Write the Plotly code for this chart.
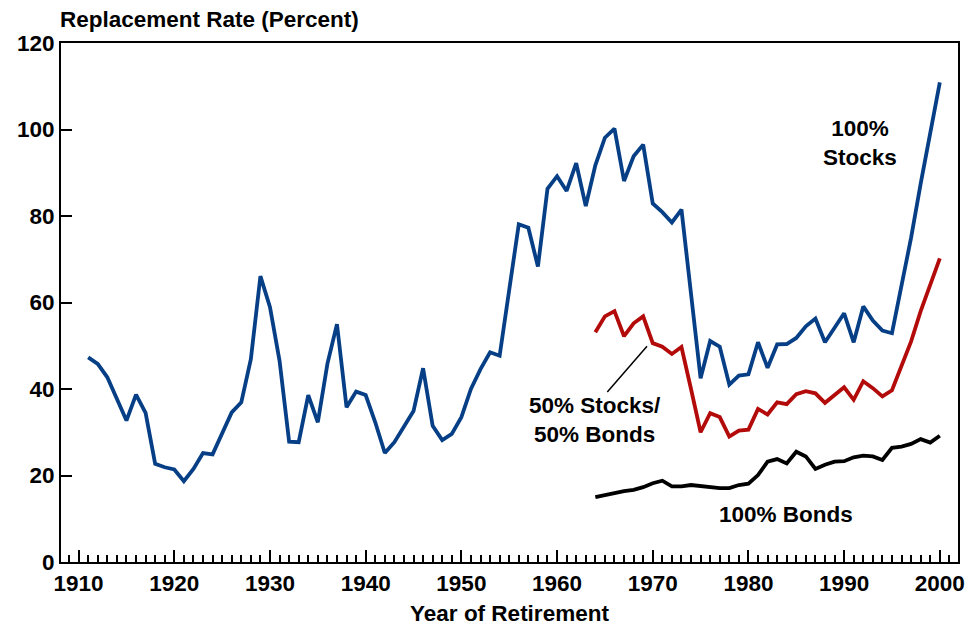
import plotly.graph_objects as go

# Replacement rate by year of retirement (percent)
stock_years = list(range(1911, 2001))
stocks_100 = [
    47.3, 45.8, 42.7, 37.7, 32.7, 38.7, 34.5, 22.7, 21.9, 21.4,   # 1911-1920
    18.7, 21.5, 25.2, 24.9, 29.8, 34.6, 36.9, 46.9, 66.1, 58.9,   # 1921-1930
    46.5, 27.8, 27.7, 38.6, 32.3, 45.8, 55.0, 35.8, 39.4, 38.6,   # 1931-1940
    32.3, 25.2, 27.7, 31.2, 34.9, 44.8, 31.5, 28.2, 29.6, 33.5,   # 1941-1950
    40.0, 44.6, 48.5, 47.7, 63.5, 78.1, 77.3, 68.3, 86.3, 89.2,   # 1951-1960
    85.8, 92.2, 82.3, 91.7, 98.1, 100.2, 88.1, 93.8, 96.5, 82.9,  # 1961-1970
    80.9, 78.5, 81.5, 62.0, 42.5, 51.1, 49.8, 41.0, 43.1, 43.4,   # 1971-1980
    50.8, 44.9, 50.3, 50.4, 51.8, 54.5, 56.3, 50.8, 54.2, 57.5,   # 1981-1990
    50.8, 59.1, 55.8, 53.5, 52.9, 64.0, 75.0, 87.5, 99.5, 110.9,  # 1991-2000
]

mix_years = list(range(1964, 2001))
stocks_50_bonds_50 = [
    53.1, 56.8, 58.0, 52.2, 55.2, 56.8, 50.6,                     # 1964-1970
    49.8, 48.1, 49.7, 40.0, 30.0, 34.4, 33.5, 29.0, 30.4, 30.6,   # 1971-1980
    35.4, 34.1, 36.9, 36.5, 38.8, 39.5, 39.0, 36.8, 38.6, 40.4,   # 1981-1990
    37.5, 41.8, 40.2, 38.3, 39.7, 45.3, 51.0, 58.0, 64.0, 70.2,   # 1991-2000
]
bonds_100 = [
    15.0, 15.5, 15.8, 16.4, 16.7, 17.3, 18.2,                     # 1964-1970
    18.8, 17.5, 17.5, 17.8, 17.5, 17.4, 17.1, 17.1, 17.8, 18.1,   # 1971-1980
    20.1, 23.2, 23.8, 22.8, 25.5, 24.4, 21.5, 22.5, 23.2, 23.3,   # 1981-1990
    24.2, 24.6, 24.4, 23.6, 26.4, 26.7, 27.3, 28.4, 27.6, 29.2,   # 1991-2000
]

y_ticks = [0, 20, 40, 60, 80, 100, 120]
x_ticks = list(range(1910, 2001, 10))

FONT = "Liberation Sans, Arial, sans-serif"
FS = 22.5
BLUE = "#063f86"
RED = "#b30a0a"
bold = dict(family=FONT, size=FS, color="black", weight="bold")

fig = go.Figure()
fig.add_trace(go.Scatter(x=stock_years, y=stocks_100, mode="lines",
                         line=dict(color=BLUE, width=3.8), name="100% Stocks"))
fig.add_trace(go.Scatter(x=mix_years, y=stocks_50_bonds_50, mode="lines",
                         line=dict(color=RED, width=3.8), name="50% Stocks/50% Bonds"))
fig.add_trace(go.Scatter(x=mix_years, y=bonds_100, mode="lines",
                         line=dict(color="black", width=3.8), name="100% Bonds"))

# series labels
labels = [
    ("100%<br>Stocks", 1991.7, 96.8),
    ("50% Stocks/<br>50% Bonds", 1964.0, 32.8),
    ("100% Bonds", 1983.9, 10.9),
]
for text, x, y in labels:
    fig.add_annotation(x=x, y=y, text=text, showarrow=False, font=bold)

# leader line for the mixed portfolio label
fig.add_shape(type="line", x0=1969.4, y0=49.9, x1=1965.25, y1=39.3,
              line=dict(color="black", width=1.5))

fig.add_annotation(xref="paper", yref="paper", x=0, y=1, xanchor="left", yanchor="bottom",
                   xshift=-3, yshift=9, text="Replacement Rate (Percent)", showarrow=False,
                   font=bold)

fig.update_layout(
    width=971, height=627,
    margin=dict(l=61, r=13, t=43, b=65, autoexpand=False),
    paper_bgcolor="white", plot_bgcolor="white",
    showlegend=False,
    font=bold,
)
fig.update_xaxes(
    range=[1908.16, 2001.9], tickvals=x_ticks, showgrid=False, zeroline=False,
    automargin=False,
    showline=True, linecolor="black", linewidth=2, mirror=True,
    ticks="inside", ticklen=12, tickwidth=1.5, tickcolor="black",
    minor=dict(dtick=1, ticks="inside", ticklen=7, tickwidth=1.5, tickcolor="black", showgrid=False),
    tickfont=bold,
    title=dict(text="Year of Retirement", standoff=10, font=bold),
)
fig.update_yaxes(
    range=[0, 120], tickvals=y_ticks, showgrid=False, zeroline=False,
    automargin=False,
    showline=True, linecolor="black", linewidth=2, mirror=True,
    ticks="inside", ticklen=11, tickwidth=1.5, tickcolor="black",
    tickfont=bold,
)

# page body has a default margin; drop it so the figure fills the window
fig.write_html("out.html", config={"displayModeBar": False},
               post_script="document.body.style.margin='0';")
